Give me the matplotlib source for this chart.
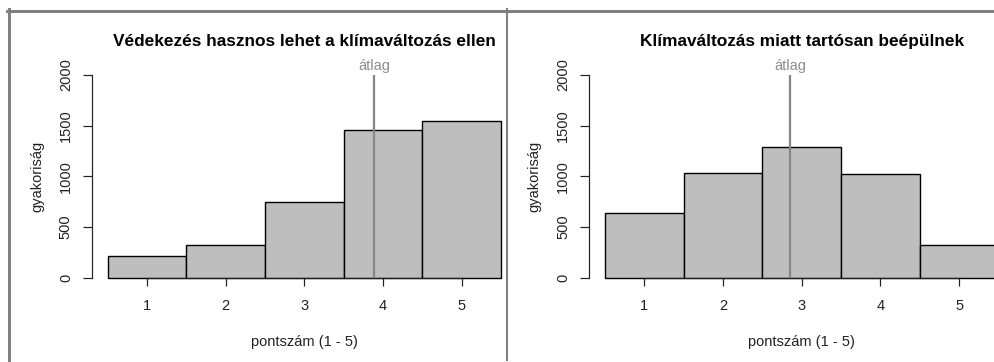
import matplotlib
matplotlib.use("Agg")
import matplotlib.pyplot as plt
from matplotlib.lines import Line2D
import numpy as np

plt.rcParams['font.family'] = ['Liberation Sans', 'DejaVu Sans']

# Survey answers on a 1-5 scale and their frequencies
scores = [1, 2, 3, 4, 5]
counts_vedekezes = [214, 323, 747, 1461, 1550]
counts_klima = [635, 1036, 1287, 1020, 323]
titles = ["Védekezés hasznos lehet a klímaváltozás ellen",
          "Klímaváltozás miatt tartósan beépülnek"]
y_ticks = [0, 500, 1000, 1500, 2000]
x_label = "pontszám (1 - 5)"
y_label = "gyakoriság"
mean_label = "átlag"

W, H, DPI = 995, 362, 100
PT = 72.0 / DPI  # points per pixel
FS = 14.6 * PT   # regular text size
FS_TITLE = 17.3 * PT

fig = plt.figure(figsize=(W / DPI, H / DPI), dpi=DPI)
fig.patch.set_facecolor("white")


def px_axes(left, top, width, height):
    return fig.add_axes([left / W, (H - top - height) / H, width / W, height / H])


unit = 78.7
plot_top, plot_bottom = 75.0, 277.7
panels = [(147.0, counts_vedekezes, titles[0]),
          (644.3, counts_klima, titles[1])]

for x_one, counts, title in panels:
    left = x_one - 0.7 * unit
    ax = px_axes(left, plot_top, 5.4 * unit, plot_bottom - plot_top)
    ax.set_xlim(0.3, 5.7)
    ax.set_ylim(0, 2000)
    ax.patch.set_alpha(0)

    ax.bar(scores, counts, width=1.0, color="#BEBEBE", edgecolor="black",
           linewidth=1.4 * PT, zorder=2, clip_on=False)

    mean = np.dot(scores, counts) / np.sum(counts)
    ax.plot([mean, mean], [0, 2000], color="#858585", linewidth=2.2 * PT,
            zorder=3, solid_capstyle="butt", clip_on=False)
    ax.annotate(mean_label, xy=(mean, 2000), xytext=(0, 1.5), textcoords="offset points",
                ha="center", va="bottom", color="#8c8c8c", fontsize=FS)

    for side in ("top", "right"):
        ax.spines[side].set_visible(False)
    ax.spines["left"].set_bounds(0, 2000)
    ax.spines["bottom"].set_bounds(1, 5)
    for side in ("left", "bottom"):
        ax.spines[side].set_linewidth(1.2 * PT)
        ax.spines[side].set_color("#222222")

    ax.set_yticks(y_ticks)
    ax.set_yticklabels([str(v) for v in y_ticks], rotation=90, va="center")
    ax.set_xticks(scores)
    ax.set_xticklabels([str(s) for s in scores])
    ax.tick_params(axis="y", length=9 * PT, width=1.2 * PT, pad=10 * PT,
                   labelsize=FS, color="#222222", labelcolor="#222222")
    ax.tick_params(axis="x", length=8 * PT, width=1.2 * PT, pad=13.5 * PT,
                   labelsize=FS, color="#222222", labelcolor="#222222")

    ax.set_title(title, fontsize=FS_TITLE, fontweight="bold", pad=29 * PT)
    ax.set_xlabel(x_label, fontsize=FS, color="#222222", labelpad=22 * PT)
    ax.set_ylabel(y_label, fontsize=FS, color="#222222", labelpad=14.5 * PT)

# Frame around the two panels and the divider between them
frame = "#808080"
fig.add_artist(Line2D([7 / W, 1.0], [1 - 10.5 / H, 1 - 10.5 / H],
                      transform=fig.transFigure, color=frame, linewidth=3 * PT))
fig.add_artist(Line2D([8.5 / W, 8.5 / W], [0, 1 - 9 / H],
                      transform=fig.transFigure, color=frame, linewidth=3 * PT))
fig.add_artist(Line2D([506.7 / W, 506.7 / W], [2 / H, 1 - 9 / H],
                      transform=fig.transFigure, color=frame, linewidth=2 * PT))

fig.savefig("out.png", dpi=DPI, facecolor="white")
